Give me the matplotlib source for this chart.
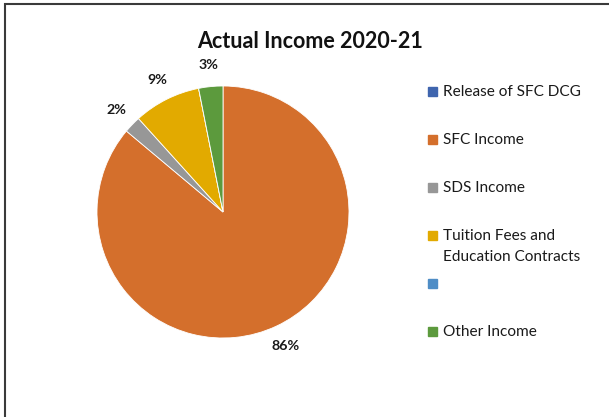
import matplotlib.pyplot as plt
from matplotlib.patches import Rectangle

# data
categories = ["Release of SFC DCG", "SFC Income", "SDS Income",
              "Tuition Fees and\nEducation Contracts", "", "Other Income"]
values = [0, 86.1, 2.2, 8.6, 0, 3.1]
colors = ["#3F65AE", "#D46F2C", "#979797", "#E2AA00", "#4F8DC6", "#5C9A3D"]

plt.rcParams['font.family'] = ['Lato', 'DejaVu Sans']

fig = plt.figure(figsize=(6.09, 4.17), dpi=100)
W, H = 609, 417

# outer frame (runs off right/bottom edges like the original crop)
fig.patches.append(Rectangle((5 / W, -0.2), 1.2, 1.2 - 4 / H,
                             transform=fig.transFigure, fill=False,
                             edgecolor="#3a3a3a", linewidth=1.5))

cx, cy, r = 223, 212, 126
ax = fig.add_axes([(cx - r) / W, (H - cy - r) / H, 2 * r / W, 2 * r / H])


def pct(p):
    return f"{p:.0f}%" if p > 0.5 else ""


wedges, texts, autotexts = ax.pie(
    values, colors=colors, startangle=90, counterclock=False,
    autopct=pct, pctdistance=1.17,
    wedgeprops=dict(edgecolor="white", linewidth=0.6),
    textprops=dict(fontsize=10.3, fontweight="bold", color="#1a1a1a"))
ax.set_xlim(-1, 1)
ax.set_ylim(-1, 1)
ax.set_aspect("equal")

fig.text(310 / W, 1 - 42 / H, "Actual Income 2020-21", ha="center",
         va="center", fontsize=15.5, fontweight="bold", color="#111111")

# legend drawn manually to mimic Excel layout
y0, step = 91.5, 48
for i, (lab, col) in enumerate(zip(categories, colors)):
    y = y0 + step * i
    fig.patches.append(Rectangle((428 / W, 1 - (y + 4.5) / H), 9 / W, 9 / H,
                                 transform=fig.transFigure, color=col))
    fig.text(443 / W, 1 - (y - 7) / H, lab, ha="left", va="top",
             fontsize=11.1, color="#1a1a1a", linespacing=1.7)

fig.savefig("out.png", dpi=100)
